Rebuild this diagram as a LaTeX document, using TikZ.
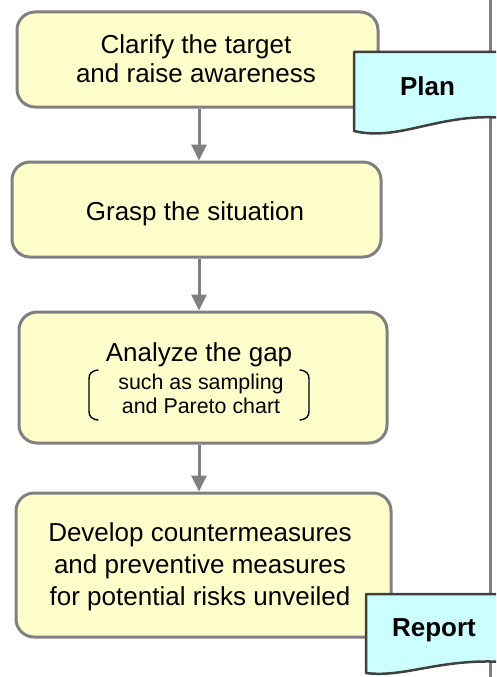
\documentclass[tikz,border=0pt]{standalone}
\usepackage{fontspec}
\setmainfont{Liberation Sans}
\usetikzlibrary{arrows.meta}
\definecolor{boxfill}{HTML}{FFFFCC}
\definecolor{boxline}{HTML}{808080}
\definecolor{docfill}{HTML}{CCFFFF}
\definecolor{docline}{HTML}{404040}
\tikzset{
  stepbox/.style={draw=boxline, fill=boxfill, line width=3pt, rounded corners=18pt, inner sep=0pt},
  flow/.style={draw=boxline, line width=3pt, -{Triangle[width=15pt,length=16pt]}},
  docshape/.style={draw=docline, fill=docfill, line width=2.5pt, line join=round},
  lane/.style={draw=boxline, line width=3pt},
  steptext/.style={inner sep=0pt, align=center, font=\fontsize{26}{29}\selectfont},
  subtext/.style={inner sep=0pt, align=center, font=\fontsize{21.4}{24}\selectfont},
  doctext/.style={inner sep=0pt, anchor=base, font=\fontsize{26}{29}\selectfont\bfseries},
  paren/.style={draw=black, line width=1.4pt, line cap=round}
}
\begin{document}
\begin{tikzpicture}[x=1pt, y=-1pt]
  \useasboundingbox (0,0) rectangle (496,677);
  \clip (0,0) rectangle (496,677);

  % lane separator on the right
  \coordinate (laneTop) at (490,-5);
  \coordinate (laneBot) at (490,682);
  \draw[lane] (laneTop) -- (laneBot);

  % process steps
  \node[stepbox, minimum width=361pt, minimum height=95pt] (b1) at (197.5,59.5) {};
  \node[stepbox, minimum width=369pt, minimum height=95pt] (b2) at (196.5,209.5) {};
  \node[stepbox, minimum width=368pt, minimum height=131pt] (b3) at (203,377.5) {};
  \node[stepbox, minimum width=375pt, minimum height=144pt] (b4) at (203.5,565) {};

  % step labels
  \node[steptext] (t1) at (196,61.7) {\strut Clarify the target\\\strut and raise awareness};
  \node[steptext, anchor=base] (t2) at (195,220) {Grasp the situation};
  \node[steptext, anchor=base] (t3) at (199,361.7) {Analyze the gap};
  \node[subtext] (t3s) at (201,396.2) {\strut such as sampling\\\strut and Pareto chart};
  \node[steptext, font=\fontsize{26}{32}\selectfont] (t4) at (200,567.3)
    {\strut Develop countermeasures\\\strut and preventive measures\\\strut for potential risks unveiled};

  % brackets around the examples
  \draw[paren] (98,370) .. controls (91,371) and (89,374) .. (89,379) -- (89,411)
               .. controls (89,416) and (91,419) .. (98,420);
  \draw[paren] (300,370) .. controls (307,371) and (309,374) .. (309,379) -- (309,411)
               .. controls (309,416) and (307,419) .. (300,420);

  % connectors
  \coordinate (ax) at (199,0);
  \draw[flow] (b1.south -| ax) -- (b2.north -| ax);
  \draw[flow] (b2.south -| ax) -- (b3.north -| ax);
  \draw[flow] (b3.south -| ax) -- (b4.north -| ax);

  % documents
  \draw[docshape] (354,131) -- (354,52) -- (505,52) -- (505,118)
    .. controls (440,112) and (400,142) .. cycle;
  \node[doctext] (plan) at (427.5,95) {Plan};

  \draw[docshape] (366,673) -- (366,594) -- (505,594) -- (505,662)
    .. controls (440,658) and (405,678) .. cycle;
  \node[doctext] (report) at (434,636.7) {Report};
\end{tikzpicture}
\end{document}
